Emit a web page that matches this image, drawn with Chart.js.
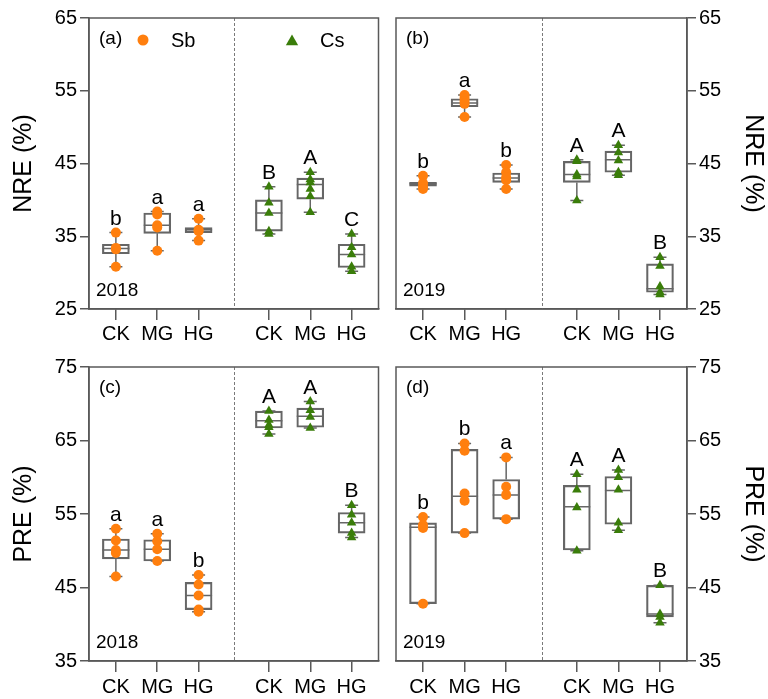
<!DOCTYPE html>
<html>
<head>
<meta charset="utf-8">
<script src="https://cdn.jsdelivr.net/npm/chart.js@4.4.1/dist/chart.umd.min.js"></script>
<style>
  html, body { margin: 0; padding: 0; background: #fff; }
  #fig { position: relative; width: 768px; height: 699px; overflow: hidden; }
  #fig canvas { position: absolute; }
</style>
</head>
<body>
<div id="fig">
  <canvas id="panelA" width="384" height="345" style="left:0;top:0"></canvas>
  <canvas id="panelB" width="384" height="345" style="left:384px;top:0"></canvas>
  <canvas id="panelC" width="384" height="354" style="left:0;top:345px"></canvas>
  <canvas id="panelD" width="384" height="354" style="left:384px;top:345px"></canvas>
</div>
<script>
// Treatments on the x axis
const groups = ['CK', 'MG', 'HG'];
const nreTicks = [25, 35, 45, 55, 65];
const preTicks = [35, 45, 55, 65, 75];

// Box summaries are [min, q1, median, q3, max]

// NRE 2018
const nre2018SbPoints = [[35.5, 33.4, 33.2, 30.8], [38.4, 38.0, 36.5, 36.2, 33.0], [37.4, 35.9, 35.7, 34.4]];
const nre2018SbBoxes = [[30.8, 32.6, 33.3, 33.9, 35.5], [33.0, 35.4, 36.5, 38.2, 38.4], [34.4, 35.5, 35.9, 36.2, 37.4]];
const nre2018CsPoints = [[41.8, 39.6, 38.2, 35.7, 35.3], [43.8, 42.8, 42.4, 41.5, 40.5, 38.3], [35.3, 33.5, 32.5, 30.8, 30.2]];
const nre2018CsBoxes = [[35.3, 35.7, 38.2, 40.0, 41.8], [38.3, 40.1, 42.1, 43.0, 43.8], [30.2, 30.7, 32.5, 33.9, 35.3]];
const nre2018SbLetters = ['b', 'a', 'a'];
const nre2018CsLetters = ['B', 'A', 'C'];

// NRE 2019
const nre2019SbPoints = [[43.3, 42.3, 41.8, 41.5], [54.4, 54.0, 53.6, 53.2, 51.4], [44.8, 43.8, 43.1, 42.7, 41.5]];
const nre2019SbBoxes = [[41.5, 41.9, 42.2, 42.4, 43.3], [51.4, 52.8, 53.3, 53.9, 54.4], [41.5, 42.4, 43.0, 43.7, 44.8]];
const nre2019CsPoints = [[45.5, 45.3, 43.5, 43.2, 39.9], [47.5, 46.5, 45.4, 43.8, 43.4], [32.1, 30.9, 28.1, 27.3, 27.0]];
const nre2019CsBoxes = [[39.9, 42.4, 43.5, 45.3, 45.5], [43.4, 43.8, 45.5, 46.7, 47.5], [27.0, 27.3, 27.8, 31.2, 32.1]];
const nre2019SbLetters = ['b', 'a', 'b'];
const nre2019CsLetters = ['A', 'A', 'B'];

// PRE 2018
const pre2018SbPoints = [[53.0, 51.4, 50.1, 49.7, 46.5], [52.3, 51.3, 50.2, 48.6], [46.7, 45.4, 43.9, 42.0, 41.7]];
const pre2018SbBoxes = [[46.5, 48.9, 50.1, 51.6, 53.0], [48.6, 48.6, 50.2, 51.5, 52.3], [41.7, 42.0, 43.9, 45.7, 46.7]];
const pre2018CsPoints = [[69.0, 67.8, 67.1, 66.8, 65.9], [70.3, 69.1, 68.2, 66.7], [56.2, 54.9, 53.8, 52.4, 51.8]];
const pre2018CsBoxes = [[65.9, 66.7, 67.7, 69.0, 69.0], [66.7, 66.8, 68.3, 69.4, 70.3], [51.8, 52.4, 53.8, 55.2, 56.2]];
const pre2018SbLetters = ['a', 'a', 'b'];
const pre2018CsLetters = ['A', 'A', 'B'];

// PRE 2019
const pre2019SbPoints = [[54.6, 53.5, 53.1, 42.8], [64.6, 63.6, 57.8, 56.8, 52.4], [62.7, 58.7, 57.6, 54.3]];
const pre2019SbBoxes = [[42.8, 42.8, 53.2, 53.8, 54.6], [52.4, 52.4, 57.4, 63.8, 64.6], [54.3, 54.3, 57.6, 59.7, 62.7]];
const pre2019CsPoints = [[60.4, 58.3, 55.9, 50.0], [61.0, 60.0, 58.3, 53.8, 52.8], [45.3, 41.4, 41.0, 40.2]];
const pre2019CsBoxes = [[50.0, 50.1, 56.0, 58.9, 60.4], [52.8, 53.6, 58.2, 60.1, 61.0], [40.2, 41.0, 41.4, 45.3, 45.3]];
const pre2019SbLetters = ['b', 'b', 'a'];
const pre2019CsLetters = ['A', 'A', 'B'];

// ---- look & layout ----
const FONT = '"Liberation Sans", Arial, Helvetica, sans-serif';
const INK = '#000000';
const FRAME = '#595959';
const BOX_LINE = '#666666';
const SB_COLOR = '#ff7f0e';
const CS_COLOR = '#3a7d0a';
const SB_SLOTS = [0.65, 1.65, 2.65];   // Sb on the left half of each panel
const CS_SLOTS = [4.35, 5.35, 6.35];   // Cs on the right half
const SPLIT_AT = 3.5;
const BOX_HALF = 13.5;
const CAP_HALF = 6.5;

function drawTriangle(ctx, cx, cy, r) {
  ctx.beginPath();
  ctx.moveTo(cx, cy - r);
  ctx.lineTo(cx + r * 0.95, cy + r * 0.65);
  ctx.lineTo(cx - r * 0.95, cy + r * 0.65);
  ctx.closePath();
  ctx.fill();
}

const panelDecor = {
  id: 'panelDecor',
  beforeDatasetsDraw(chart) {
    const { ctx, chartArea: a, scales: { x, y } } = chart;
    ctx.save();
    // dashed separator between the two species
    const sx = Math.round(x.getPixelForValue(SPLIT_AT)) + 0.5;
    ctx.strokeStyle = '#7a7a7a';
    ctx.lineWidth = 1;
    ctx.setLineDash([3, 2]);
    ctx.beginPath();
    ctx.moveTo(sx, a.top);
    ctx.lineTo(sx, a.bottom);
    ctx.stroke();
    ctx.setLineDash([]);
    // whiskers, caps and medians
    ctx.strokeStyle = BOX_LINE;
    ctx.lineWidth = 1.5;
    chart.data.datasets[0].data.forEach(d => {
      const [mn, q1, md, q3, mx] = d.stats;
      const cx = x.getPixelForValue(d.x);
      const pMin = y.getPixelForValue(mn), pQ1 = y.getPixelForValue(q1);
      const pMed = y.getPixelForValue(md), pQ3 = y.getPixelForValue(q3);
      const pMax = y.getPixelForValue(mx);
      ctx.beginPath();
      ctx.moveTo(cx, pQ3); ctx.lineTo(cx, pMax);
      ctx.moveTo(cx, pQ1); ctx.lineTo(cx, pMin);
      ctx.moveTo(cx - CAP_HALF, pMax); ctx.lineTo(cx + CAP_HALF, pMax);
      ctx.moveTo(cx - CAP_HALF, pMin); ctx.lineTo(cx + CAP_HALF, pMin);
      ctx.moveTo(cx - BOX_HALF, pMed); ctx.lineTo(cx + BOX_HALF, pMed);
      ctx.stroke();
    });
    ctx.restore();
  },
  afterDatasetsDraw(chart, args, opts) {
    const { ctx, chartArea: a, scales: { x, y } } = chart;
    ctx.save();
    // plot frame
    ctx.strokeStyle = FRAME;
    ctx.lineWidth = 1.5;
    ctx.strokeRect(a.left, a.top, a.right - a.left, a.bottom - a.top);
    // significance letters above each box
    ctx.fillStyle = INK;
    ctx.textAlign = 'center';
    ctx.textBaseline = 'alphabetic';
    ctx.font = '21px ' + FONT;
    chart.data.datasets[0].data.forEach(d => {
      const cx = x.getPixelForValue(d.x);
      const top = y.getPixelForValue(d.stats[4]);
      ctx.fillText(d.letter, cx, top - 8);
    });
    // panel tag and year
    ctx.textAlign = 'left';
    ctx.font = '19px ' + FONT;
    ctx.fillText(opts.tag, a.left + 10, a.top + 26);
    ctx.fillText(opts.year, a.left + 7, a.bottom - 13);
    // species key
    if (opts.key) {
      ctx.fillStyle = SB_COLOR;
      ctx.beginPath();
      ctx.arc(a.left + 54, a.top + 22, 5.5, 0, Math.PI * 2);
      ctx.fill();
      ctx.fillStyle = CS_COLOR;
      drawTriangle(ctx, a.left + 203, a.top + 23, 6.5);
      ctx.fillStyle = INK;
      ctx.font = '20px ' + FONT;
      ctx.fillText('Sb', a.left + 82, a.top + 29);
      ctx.fillText('Cs', a.left + 231, a.top + 29);
    }
    ctx.restore();
  }
};

function makePanel(spec) {
  const boxes = [];
  spec.sbBoxes.forEach((b, i) => boxes.push({ x: SB_SLOTS[i], y: [b[1], b[3]], stats: b, letter: spec.sbLetters[i] }));
  spec.csBoxes.forEach((b, i) => boxes.push({ x: CS_SLOTS[i], y: [b[1], b[3]], stats: b, letter: spec.csLetters[i] }));
  const sbPts = [];
  spec.sbPoints.forEach((arr, i) => arr.forEach(v => sbPts.push({ x: SB_SLOTS[i], y: v })));
  const csPts = [];
  spec.csPoints.forEach((arr, i) => arr.forEach(v => csPts.push({ x: CS_SLOTS[i], y: v })));
  const xTicks = SB_SLOTS.concat(CS_SLOTS);
  const yTicks = spec.ticks;

  return new Chart(document.getElementById(spec.id), {
    type: 'scatter',
    data: {
      datasets: [
        {
          type: 'bar', data: boxes, barThickness: 27,
          backgroundColor: 'rgba(255,255,255,0)', borderColor: BOX_LINE,
          borderWidth: 1.5, borderSkipped: false, order: 3
        },
        {
          type: 'scatter', data: sbPts, pointStyle: 'circle', pointRadius: 5,
          backgroundColor: SB_COLOR, borderColor: SB_COLOR, borderWidth: 0, order: 1
        },
        {
          type: 'scatter', data: csPts, pointStyle: 'triangle', pointRadius: 5.5,
          backgroundColor: CS_COLOR, borderColor: CS_COLOR, borderWidth: 0, order: 1
        }
      ]
    },
    options: {
      responsive: false,
      animation: false,
      devicePixelRatio: 1,
      layout: { padding: spec.pad },
      plugins: {
        legend: { display: false },
        tooltip: { enabled: false },
        panelDecor: { tag: spec.tag, year: spec.year, key: spec.key }
      },
      scales: {
        x: {
          type: 'linear', min: 0, max: 7, offset: false,
          afterBuildTicks: s => { s.ticks = xTicks.map(v => ({ value: v })); },
          afterFit: s => { s.height = spec.axisH; },
          ticks: {
            autoSkip: false, maxRotation: 0, padding: spec.xPad, color: INK,
            font: { family: FONT, size: 20 },
            callback: (v, i) => groups[i % 3]
          },
          grid: { drawOnChartArea: false, offset: false, tickLength: 11, color: FRAME, lineWidth: 1.5 },
          border: { color: FRAME, width: 1.5 }
        },
        y: {
          position: spec.side,
          min: yTicks[0], max: yTicks[yTicks.length - 1],
          afterBuildTicks: s => { s.ticks = yTicks.map(v => ({ value: v })); },
          afterFit: s => { s.width = spec.axisW; },
          ticks: { padding: 3, color: INK, font: { family: FONT, size: 20 } },
          grid: { drawOnChartArea: false, tickLength: 9, color: FRAME, lineWidth: 1.5 },
          border: { color: FRAME, width: 1.5 },
          title: {
            display: true, text: spec.title, color: INK,
            font: { family: FONT, size: 25 },
            padding: { top: spec.side === 'left' ? 9 : 0, bottom: 0 }
          }
        }
      }
    },
    plugins: [panelDecor]
  });
}

makePanel({
  id: 'panelA', title: 'NRE (%)', side: 'left', ticks: nreTicks, tag: '(a)', year: '2018', key: true,
  pad: { left: 0, right: 3, top: 18, bottom: 0 }, axisW: 89, axisH: 36, xPad: 2,
  sbPoints: nre2018SbPoints, sbBoxes: nre2018SbBoxes, sbLetters: nre2018SbLetters,
  csPoints: nre2018CsPoints, csBoxes: nre2018CsBoxes, csLetters: nre2018CsLetters
});
makePanel({
  id: 'panelB', title: 'NRE (%)', side: 'right', ticks: nreTicks, tag: '(b)', year: '2019', key: false,
  pad: { left: 12, right: 0, top: 18, bottom: 0 }, axisW: 81, axisH: 36, xPad: 2,
  sbPoints: nre2019SbPoints, sbBoxes: nre2019SbBoxes, sbLetters: nre2019SbLetters,
  csPoints: nre2019CsPoints, csBoxes: nre2019CsBoxes, csLetters: nre2019CsLetters
});
makePanel({
  id: 'panelC', title: 'PRE (%)', side: 'left', ticks: preTicks, tag: '(c)', year: '2018', key: false,
  pad: { left: 0, right: 2, top: 22, bottom: 0 }, axisW: 89, axisH: 38, xPad: 3,
  sbPoints: pre2018SbPoints, sbBoxes: pre2018SbBoxes, sbLetters: pre2018SbLetters,
  csPoints: pre2018CsPoints, csBoxes: pre2018CsBoxes, csLetters: pre2018CsLetters
});
makePanel({
  id: 'panelD', title: 'PRE (%)', side: 'right', ticks: preTicks, tag: '(d)', year: '2019', key: false,
  pad: { left: 12, right: 0, top: 22, bottom: 0 }, axisW: 81, axisH: 38, xPad: 3,
  sbPoints: pre2019SbPoints, sbBoxes: pre2019SbBoxes, sbLetters: pre2019SbLetters,
  csPoints: pre2019CsPoints, csBoxes: pre2019CsBoxes, csLetters: pre2019CsLetters
});
</script>
</body>
</html>
